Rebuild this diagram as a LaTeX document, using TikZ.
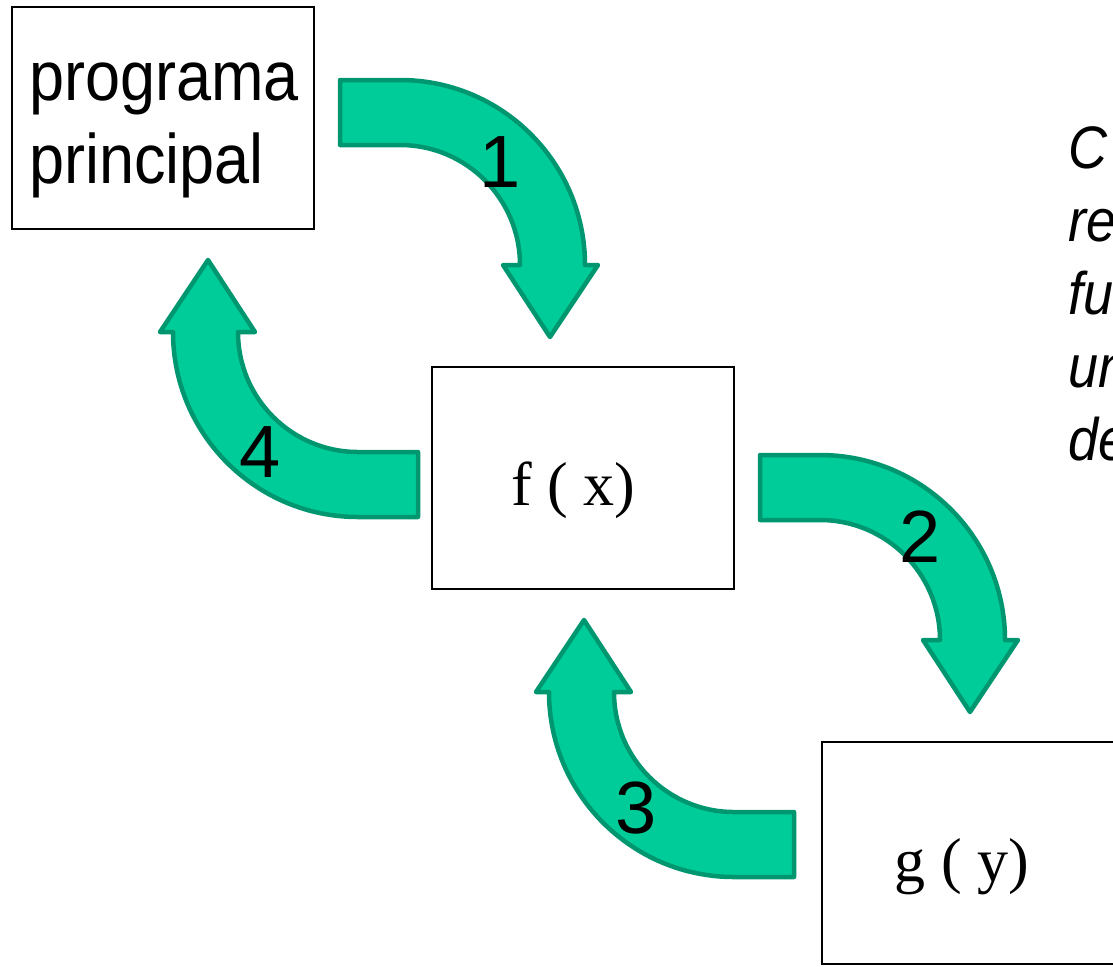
\documentclass[tikz,border=0pt]{standalone}
\usepackage{fontspec}
\setmainfont{Liberation Serif}
\newfontfamily\sansfont{Liberation Sans}[FakeStretch=0.9]
\newfontfamily\digitfont{Liberation Sans}
\definecolor{arrowfill}{RGB}{0,204,153}
\definecolor{arrowline}{RGB}{0,150,112}
\begin{document}
\begin{tikzpicture}[
    x=0.5pt, y=-0.5pt,
    box/.style={draw, line width=1pt, minimum width=151pt, minimum height=111pt, inner sep=0pt},
    sanstext/.style={font=\sansfont\fontsize{35}{41.5}\selectfont, align=left, inner sep=0pt},
    seriftext/.style={font=\fontsize{31}{36}\selectfont, inner sep=0pt},
    steplabel/.style={font=\digitfont\fontsize{37}{40}\selectfont, inner sep=0pt},
    notetext/.style={font=\sansfont\itshape\fontsize{30}{36.5}\selectfont, align=left, inner sep=0pt},
    bentarrow/.pic={
        \draw[fill=arrowfill, draw=arrowline, line width=2.25pt, line join=round]
            (-60,-185) -- (0,-185) arc[start angle=-90, end angle=0, radius=185]
            -- (198,0) -- (150,72) -- (103,0) -- (120,0)
            arc[start angle=0, end angle=-90, radius=120] -- (-60,-120) -- cycle;
    }
]
\useasboundingbox (0,0) rectangle (1113,966);
\clip (0,0) rectangle (1113,966);

% Boxes
\node[box] (main) at (163,118) {};
\node[box] (fx) at (583,478) {};
\node[box] (gy) at (973,853) {};

% Box texts (base = last line)
\node[sanstext, anchor=base west] (maintext) at (29,183) {programa\\principal};
\node[seriftext, anchor=base] (fxtext) at (573,505) {f ( x)};
\node[seriftext, anchor=base] (gytext) at (962,881) {g ( y)};

% Bent arrows (calls go down, returns go up)
\pic at (400,265) {bentarrow};
\pic at (820,640) {bentarrow};
\pic[rotate=180] at (734,692) {bentarrow};
\pic[rotate=180] at (358,332) {bentarrow};

% Step numbers
\node[steplabel] (one) at (500,162) {1};
\node[steplabel] (two) at (920,537) {2};
\node[steplabel] (three) at (636,808) {3};
\node[steplabel] (four) at (260,452) {4};

% Note on the right (cut by the frame)
\node[notetext, anchor=base west] (note) at (1068,460) {C\\re\\fu\\un\\de};
\end{tikzpicture}
\end{document}
